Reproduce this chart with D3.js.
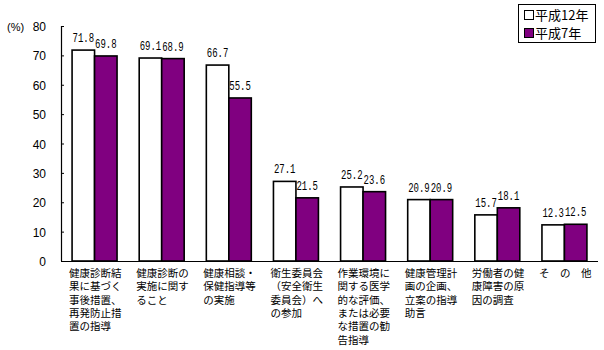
<!DOCTYPE html>
<html>
<head>
<meta charset="utf-8">
<script src="https://cdn.jsdelivr.net/npm/d3@7"></script>
<style>
  html, body { margin: 0; padding: 0; background: #fff; }
  svg { display: block; }
</style>
</head>
<body>
<script>
// 産業医の職務内容（複数回答）平成12年・平成7年比較
const categories = [
  ["健康診断結", "果に基づく", "事後措置、", "再発防止措", "置の指導"],
  ["健康診断の", "実施に関す", "ること"],
  ["健康相談・", "保健指導等", "の実施"],
  ["衛生委員会", "（安全衛生", "委員会）へ", "の参加"],
  ["作業環境に", "関する医学", "的な評価、", "または必要", "な措置の勧", "告指導"],
  ["健康管理計", "画の企画、", "立案の指導", "助言"],
  ["労働者の健", "康障害の原", "因の調査"],
  ["そ　の　他"]
];
const seriesNames = ["平成12年", "平成7年"];
const valuesH12 = [71.8, 69.1, 66.7, 27.1, 25.2, 20.9, 15.7, 12.3];
const valuesH7  = [69.8, 68.9, 55.5, 21.5, 23.6, 20.9, 18.1, 12.5];
const yTicks = [0, 10, 20, 30, 40, 50, 60, 70, 80];
const colors = ["#ffffff", "#800080"];

const W = 604, H = 350;
const plotL = 61, plotR = 598, plotT = 26, plotB = 261;

const svg = d3.select("body").append("svg")
  .attr("width", W).attr("height", H);

const idx = d3.range(categories.length);
const x0 = d3.scaleBand().domain(idx).range([plotL, plotR])
  .paddingInner(0.33).paddingOuter(0.165);
const x1 = d3.scaleBand().domain([0, 1]).range([0, x0.bandwidth()]);
const y = d3.scaleLinear().domain([0, 80]).range([plotB, plotT]);

const series = [valuesH12, valuesH7];

// bars
series.forEach((vals, s) => {
  svg.append("g").selectAll("rect").data(vals).join("rect")
    .attr("x", (d, i) => x0(i) + x1(s))
    .attr("y", d => y(d))
    .attr("width", x1.bandwidth())
    .attr("height", d => y(0) - y(d))
    .attr("fill", colors[s])
    .attr("stroke", "#000")
    .attr("stroke-width", 1.6);
});

// value labels in a narrow, tall monospace face
series.forEach((vals, s) => {
  svg.append("g").selectAll("text").data(vals).join("text")
    .attr("transform", (d, i) =>
      `translate(${x0(i) + x1(s) + x1.bandwidth() / 2},${y(d) - 8}) scale(0.75,1)`)
    .attr("text-anchor", "middle")
    .attr("font-family", "'Liberation Mono', 'DejaVu Sans Mono', monospace")
    .attr("font-size", 12)
    .attr("fill", "#000")
    .text(d => d.toFixed(1));
});

// y axis
const yAxis = d3.axisRight(y).tickValues(yTicks).tickSize(3).tickFormat("");
const gy = svg.append("g").attr("transform", `translate(${plotL},0)`).call(yAxis);
gy.select(".domain").attr("d", `M0.5,${plotT}V${plotB}`).attr("stroke", "#000").attr("stroke-width", 1.2);
gy.selectAll(".tick line").attr("stroke", "#000");

svg.append("g").selectAll("text").data(yTicks).join("text")
  .attr("x", 46)
  .attr("y", d => y(d) + 5)
  .attr("text-anchor", "end")
  .attr("font-family", "'Liberation Sans', Arial, sans-serif")
  .attr("font-size", 12)
  .text(d => d);

svg.append("text")
  .attr("x", 7).attr("y", y(80) + 5)
  .attr("font-family", "'Liberation Sans', Arial, sans-serif")
  .attr("font-size", 11)
  .text("(%)");

// x axis baseline
svg.append("line")
  .attr("x1", plotL).attr("x2", plotR)
  .attr("y1", plotB + 0.5).attr("y2", plotB + 0.5)
  .attr("stroke", "#000").attr("stroke-width", 1.2);

// category labels, one text per wrapped line
const catG = svg.append("g")
  .attr("font-family", "'Liberation Sans', 'Noto Sans CJK JP', sans-serif")
  .attr("font-size", 10.5)
  .attr("fill", "#000");
categories.forEach((lines, i) => {
  const lx = x0(i) + x0.bandwidth() / 2 - 25.5;
  catG.append("g").selectAll("text").data(lines).join("text")
    .attr("x", lx)
    .attr("y", (d, j) => 277 + j * 13.3)
    .text(d => d);
});

// legend
const lg = svg.append("g");
lg.append("rect")
  .attr("x", 518.5).attr("y", 4.5).attr("width", 77).attr("height", 38)
  .attr("fill", "#fff").attr("stroke", "#000").attr("stroke-width", 1);
seriesNames.forEach((name, s) => {
  const cy = 15 + s * 18;
  lg.append("rect")
    .attr("x", 524.5).attr("y", cy - 4.5).attr("width", 9).attr("height", 9)
    .attr("fill", colors[s]).attr("stroke", "#000").attr("stroke-width", 1);
  lg.append("text")
    .attr("x", 535).attr("y", cy + 5)
    .attr("font-family", "'Noto Sans CJK JP', sans-serif")
    .attr("font-size", 13)
    .text(name);
});
</script>
</body>
</html>
